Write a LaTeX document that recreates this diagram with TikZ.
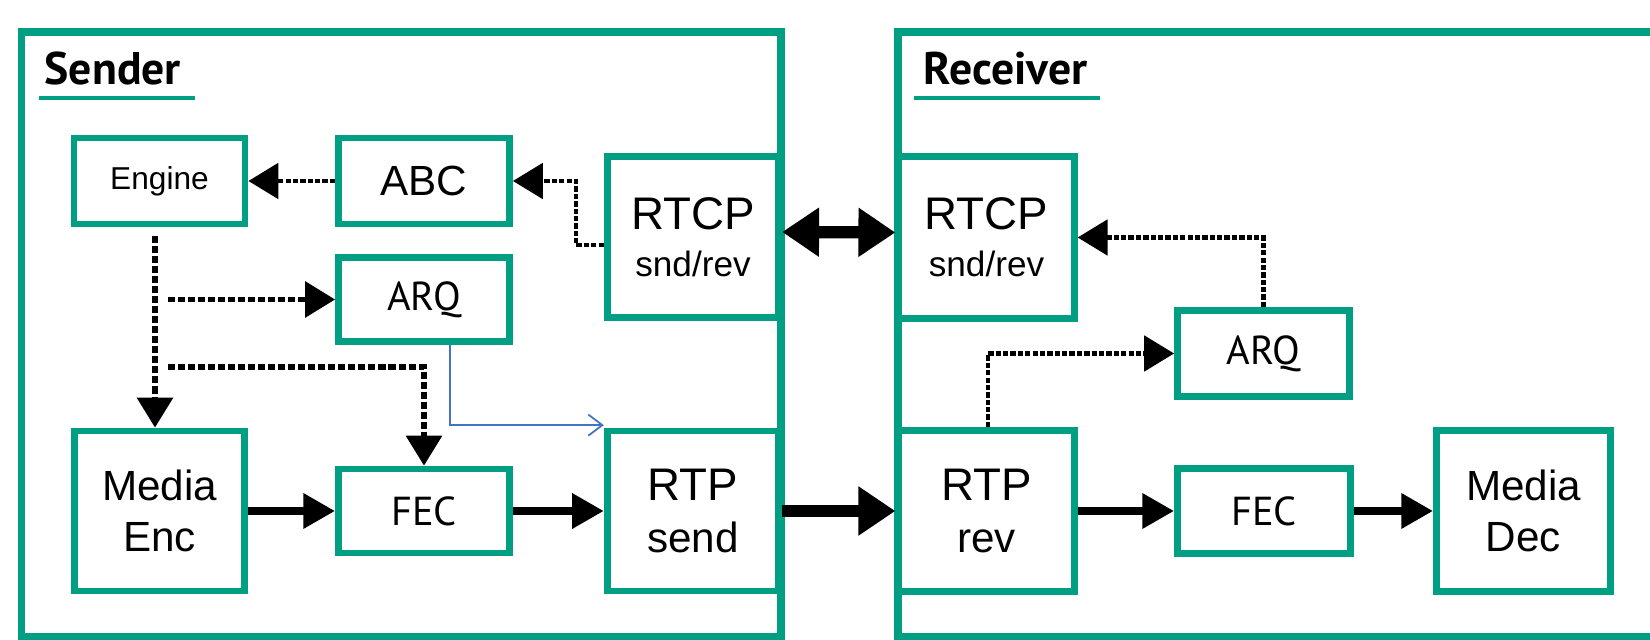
\documentclass[tikz,border=0pt]{standalone}
\usepackage{fontspec}
\setmainfont{Liberation Sans}
\newfontfamily\ptsans{PT Sans}
\usepackage{tikz}
\usetikzlibrary{arrows.meta,positioning}
\definecolor{boxgreen}{RGB}{0,158,130}
\definecolor{linkblue}{RGB}{68,114,196}
\tikzset{
	outer box/.style = {draw = boxgreen, line width = 2.1pt},
	underline/.style = {draw = boxgreen, line width = 0.9pt},
	title/.style = {anchor = base west, inner sep = 0pt, font = \ptsans\bfseries\fontsize{13}{15}\selectfont},
	block/.style = {draw = boxgreen, line width = 1.9pt, fill = white, inner sep = 0pt, align = center},
	small block/.style = {block, minimum width = 1.71cm, minimum height = 0.86cm},
	tall block/.style = {block, minimum width = 1.70cm, minimum height = 1.61cm},
	big text/.style = {font = \fontsize{12}{14.6}\selectfont},
	opt text/.style = {font = \ptsans\fontsize{11.5}{13}\selectfont},
	flow/.style = {-{Triangle[length = 9pt, width = 9.5pt]}, line width = 2.3pt},
	wire/.style = {-{Triangle[length = 10.5pt, width = 13.3pt]}, line width = 3.5pt},
	ctrl/.style = {-{Triangle[length = 8.5pt, width = 10pt]}, line width = 1.25pt, dash pattern = on 1.5pt off 0.6pt},
	heavy ctrl/.style = {-{Triangle[length = 8.5pt, width = 10pt]}, line width = 1.5pt, dash pattern = on 2pt off 0.85pt},
	link/.style = {-{Straight Barb[length = 4pt, width = 6pt]}, draw = linkblue, line width = 0.5pt}
}

\begin{document}
\begin{tikzpicture}[x = 0.01cm, y = -0.01cm]
	\useasboundingbox (0, 0) rectangle (1650, 640);

	% the two halves
	\draw[outer box] (21.5, 32) rectangle (781, 636.5);
	\draw[outer box] (1652, 32) -- (898, 32) -- (898, 636.5) -- (1652, 636.5);
	\node[title] (sendertitle) at (44, 85) {Sender};
	\draw[underline] (39, 98) -- (195, 98);
	\node[title] (receivertitle) at (923, 85) {Receiver};
	\draw[underline] (914, 98) -- (1100, 98);

	% sender
	\node[small block, font = \fontsize{9}{11}\selectfont] (engine) at (159.5, 181) {Engine};
	\node[small block, big text] (abc) at (424, 181) {ABC};
	\node[small block, opt text, minimum height = 0.84cm] (arqs) at (424, 299.5) {ARQ};
	\node[tall block, minimum width = 1.715cm, font = \fontsize{10}{13.3}\selectfont] (rtcps) at (693, 237) {{\fontsize{13}{15}\selectfont RTCP}\\snd/rev};
	\node[tall block, big text, minimum height = 1.60cm] (mediaenc) at (159.5, 511) {Media\\Enc};
	\node[small block, opt text, minimum height = 0.84cm] (fecs) at (424, 511) {FEC};
	\node[tall block, big text, minimum width = 1.715cm, minimum height = 1.60cm] (rtps) at (693, 511) {{\fontsize{13}{15}\selectfont RTP}\\send};

	% receiver
	\node[tall block, minimum width = 1.755cm, minimum height = 1.62cm, font = \fontsize{10}{13.3}\selectfont] (rtcpr) at (986.5, 237.5) {{\fontsize{13}{15}\selectfont RTCP}\\snd/rev};
	\node[small block, opt text, minimum width = 1.72cm] (arqr) at (1263.5, 353.5) {ARQ};
	\node[tall block, big text, minimum width = 1.755cm] (rtpr) at (986.5, 511) {{\fontsize{13}{15}\selectfont RTP}\\rev};
	\node[small block, opt text, minimum width = 1.73cm, minimum height = 0.85cm] (fecr) at (1264, 511) {FEC};
	\node[tall block, big text, minimum width = 1.74cm] (mediadec) at (1523.5, 511) {Media\\Dec};

	% control paths
	\draw[ctrl] (abc.west) -- (engine.east);
	\draw[ctrl] ([yshift = -0.08cm]rtcps.west) -- ++(-28, 0) |- (abc.east);
	\draw[heavy ctrl, shorten <= 2.5pt] ([xshift = -0.045cm]engine.south) -- ([xshift = -0.045cm]mediaenc.north);
	\coordinate (tapA) at (168, 299.5);
	\coordinate (tapB) at (168, 367);
	\draw[heavy ctrl] (tapA) -- (arqs.west);
	\draw[heavy ctrl] (tapB) -| (fecs.north);
	\draw[link] ([xshift = 0.26cm]arqs.south) |- ([yshift = 0.025cm]rtps.north west);
	\draw[ctrl] ([xshift = 0.015cm]rtpr.north) |- (arqr.west);
	\draw[ctrl] (arqr.north) |- (rtcpr.east);

	% media paths
	\draw[flow] (mediaenc.east) -- (fecs.west);
	\draw[flow] (fecs.east) -- (rtps.west);
	\draw[wire] (rtps.east) -- (rtpr.west);
	\draw[wire, {Triangle[length = 10.5pt, width = 13.3pt]}-{Triangle[length = 10.5pt, width = 13.3pt]}] ([yshift = 0.05cm]rtcps.east) -- ([yshift = 0.05cm]rtcpr.west);
	\draw[flow] (rtpr.east) -- (fecr.west);
	\draw[flow] (fecr.east) -- (mediadec.west);
\end{tikzpicture}
\end{document}
